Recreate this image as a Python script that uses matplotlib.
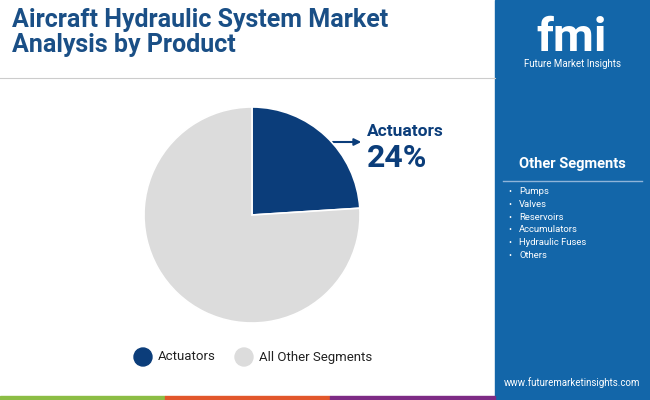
import matplotlib.pyplot as plt
from matplotlib.patches import Rectangle, Circle

W, H = 650, 400
labels = ["Actuators", "All Other Segments"]
shares = [24, 76]
colors = ["#0b3d7a", "#dcdcdc"]
other_segments = ["Pumps", "Valves", "Reservoirs", "Accumulators", "Hydraulic Fuses", "Others"]

plt.rcParams["font.family"] = ["Roboto", "DejaVu Sans"]
fig = plt.figure(figsize=(6.5, 4), dpi=100)
bg = fig.add_axes([0, 0, 1, 1])
bg.set_xlim(0, W)
bg.set_ylim(H, 0)
bg.axis("off")

# right panel
bg.add_patch(Rectangle((495, 0), 155, 400, color="#1366a9"))
bg.plot([0, 495], [78, 78], color="#cccccc", lw=0.8)
# bottom strip
for x0, c in [(0, "#8cbd45"), (165, "#e2572b"), (330, "#7e2b85")]:
    bg.add_patch(Rectangle((x0, 396), 165, 4, color=c))

bg.text(12, 8, "Aircraft Hydraulic System Market\nAnalysis by Product", fontsize=18,
        fontweight="bold", color="#1a4f86", va="top", linespacing=1.05)

# logo
bg.text(572, 38, "fmi", fontsize=34, fontweight="bold", color="white", ha="center", va="center")
bg.text(572, 64, "Future Market Insights", fontsize=7, color="white", ha="center", va="center")

bg.text(572, 164, "Other Segments", fontsize=10.5, fontweight="bold", color="white", ha="center", va="center")
bg.plot([503, 642], [181, 181], color="#8fb4d9", lw=1)
for i, s in enumerate(other_segments):
    y = 192 + i * 12.6
    bg.text(508, y, "•", fontsize=6.5, color="white", va="center")
    bg.text(519, y, s, fontsize=6.8, color="white", va="center")
bg.text(572, 383, "www.futuremarketinsights.com", fontsize=7, color="white", ha="center", va="center")

# pie
ax = fig.add_axes([(252 - 108) / W, 1 - (215 + 108) / H, 216 / W, 216 / H])
ax.pie(shares, colors=colors, startangle=90, counterclock=False,
       wedgeprops=dict(linewidth=1.2, edgecolor="white"))
ax.set_xlim(-1, 1)
ax.set_ylim(-1, 1)
ax.set_aspect("equal")

bg.annotate("", xy=(364, 142), xytext=(330, 142),
            arrowprops=dict(arrowstyle="-|>", color="#0b3d7a", lw=1.5))
bg.text(367, 131, labels[0], fontsize=12.5, fontweight="bold", color="#0b3d7a", va="center")
bg.text(367, 158, f"{shares[0]}%", fontsize=23, fontweight="bold", color="#0b3d7a", va="center")

# legend
for x, lab, c in [(143, labels[0], colors[0]), (244, labels[1], colors[1])]:
    bg.add_patch(Circle((x, 357), 9, color=c))
    bg.text(x + 15, 357, lab, fontsize=9.5, color="#222222", va="center")

fig.savefig("out.png", dpi=100)
